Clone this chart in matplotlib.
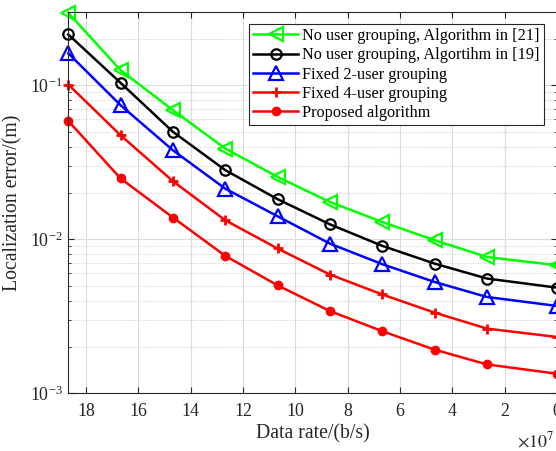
import numpy as np
import matplotlib
matplotlib.use('Agg')
import matplotlib.pyplot as plt
from matplotlib.ticker import LogLocator, NullFormatter

plt.rcParams['font.family'] = ['Liberation Serif', 'DejaVu Serif']
plt.rcParams['mathtext.fontset'] = 'stix'

# data rate (x 1e7 b/s) and localization error (m)
rate = [18.68, 16.68, 14.68, 12.68, 10.68, 8.68, 6.68, 4.68, 2.68, 0.0]
err_alg21 = [0.295, 0.125, 0.0689, 0.0388, 0.0254, 0.01746, 0.01295, 0.00986, 0.00767, 0.00678]
err_alg19 = [0.2134, 0.1035, 0.0498, 0.0281, 0.0182, 0.0125, 0.00906, 0.00695, 0.00556, 0.00485]
err_fix2 = [0.161, 0.0741, 0.0378, 0.0213, 0.0141, 0.00937, 0.00689, 0.00528, 0.00422, 0.00369]
err_fix4 = [0.101, 0.0473, 0.0238, 0.01328, 0.00871, 0.0059, 0.00438, 0.00334, 0.00263, 0.00232]
err_prop = [0.0586, 0.0248, 0.01384, 0.0078, 0.00502, 0.00342, 0.00253, 0.00192, 0.00154, 0.00134]

labels = ['No user grouping, Algorithm in [21]',
          'No user grouping, Algortihm in [19]',
          'Fixed 2-user grouping',
          'Fixed 4-user grouping',
          'Proposed algorithm']

fs_tick = 12.9
fs_lab = 14.2
fs_leg = 11.7
fig = plt.figure(figsize=(5.56, 4.51), dpi=100)
ax = fig.add_axes([68.3/556, 57.7/451, (557-68.3)/556, (393.3-11.7)/451])

lw = 1.8
ax.semilogy(rate, err_alg21, color=(0, 1, 0), lw=lw, marker='<', ms=10, mfc='none', mew=1.6, label=labels[0], clip_on=False)
ax.semilogy(rate, err_alg19, color='k', lw=lw, marker='o', ms=7.5, mfc='none', mew=1.6, label=labels[1], clip_on=False)
ax.semilogy(rate, err_fix2, color=(0, 0, 1), lw=lw, marker='^', ms=10, mfc='none', mew=1.6, label=labels[2], clip_on=False)
ax.semilogy(rate, err_fix4, color=(1, 0, 0), lw=lw, marker='+', ms=7.5, mew=2.0, label=labels[3], clip_on=False)
ax.semilogy(rate, err_prop, color=(1, 0, 0), lw=lw, marker='o', ms=6, label=labels[4], clip_on=False)

ax.set_xlim(18.68, 0)
ax.set_ylim(1e-3, 0.3)
ax.set_xticks(np.arange(0, 19, 2))
ax.yaxis.set_major_locator(LogLocator(base=10, numticks=10))
ax.yaxis.set_minor_locator(LogLocator(base=10, subs=np.arange(2, 10), numticks=10))
ax.yaxis.set_minor_formatter(NullFormatter())

ax.grid(True, which='major', color='#dcdcdc', lw=0.8)
ax.grid(True, which='minor', axis='y', color='#c8c8c8', lw=0.7, ls=':')
ax.set_axisbelow(True)

for s in ax.spines.values():
    s.set_color('#262626')
    s.set_linewidth(0.8)
ax.tick_params(which='both', direction='in', top=True, right=True, colors='#262626',
               labelsize=fs_tick)
ax.tick_params(which='major', length=4)
ax.tick_params(axis='x', which='major', pad=7)
ax.tick_params(axis='y', which='major', pad=4)
ax.tick_params(which='minor', length=2.5)

ax.set_xlabel('Data rate/(b/s)', fontsize=fs_lab, color='#262626', labelpad=3)
ax.set_ylabel('Localization error/(m)', fontsize=fs_lab, color='#262626', labelpad=5)
fig.text(517/556, 1 - 441/451, r'$\times10^{7}$', fontsize=fs_tick, color='#262626',
         ha='left', va='center')

leg = ax.legend(loc='upper right', bbox_to_anchor=(0.9734, 0.9678), borderaxespad=0,
                fontsize=fs_leg, fancybox=False, framealpha=1, edgecolor='#262626',
                handlelength=2.8, handletextpad=0.25, labelspacing=0.2,
                borderpad=0.25)
leg.get_frame().set_linewidth(0.8)
leg.set_zorder(5)

fig.savefig('out.png', dpi=100)
